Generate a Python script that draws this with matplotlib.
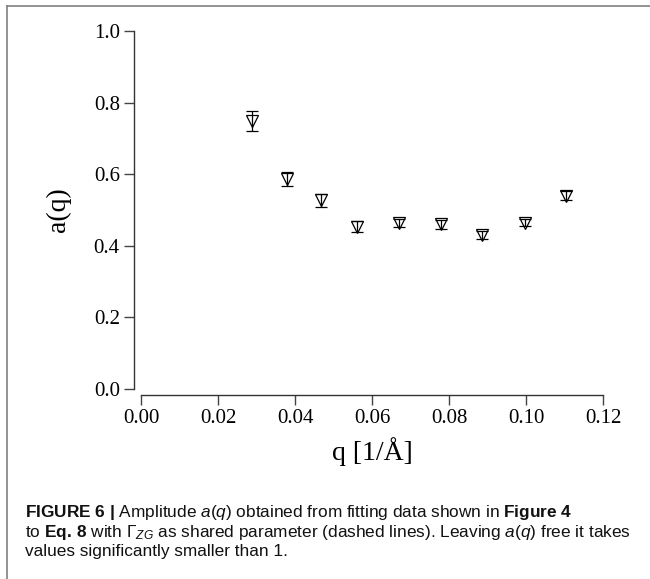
import numpy as np
import matplotlib
matplotlib.use("Agg")
import matplotlib.pyplot as plt
from matplotlib.lines import Line2D

# amplitude a(q)
q_vals = [0.0288, 0.0379, 0.0468, 0.0561, 0.0670, 0.0780, 0.0886, 0.0997, 0.1104]
a_vals = [0.749, 0.587, 0.527, 0.453, 0.464, 0.460, 0.430, 0.465, 0.540]
a_err = [0.028, 0.020, 0.018, 0.015, 0.012, 0.012, 0.011, 0.011, 0.013]

x_ticks = [0.00, 0.02, 0.04, 0.06, 0.08, 0.10, 0.12]
y_ticks = [0.0, 0.2, 0.4, 0.6, 0.8, 1.0]

caption = [
    r"$\mathbf{FIGURE\ 6\ |}$ Amplitude $\mathit{a(q)}$ obtained from fitting data shown in $\mathbf{Figure\ 4}$",
    r"to $\mathbf{Eq.\,8}$ with $\Gamma_{ZG}$ as shared parameter (dashed lines). Leaving $\mathit{a(q)}$ free it takes",
    r"values significantly smaller than 1.",
]

plt.rcParams['mathtext.fontset'] = 'custom'
plt.rcParams['mathtext.rm'] = 'Liberation Sans'
plt.rcParams['mathtext.it'] = 'Liberation Sans:italic'
plt.rcParams['mathtext.bf'] = 'Liberation Sans:bold'

W, H = 650, 579
fig = plt.figure(figsize=(W / 100, H / 100), dpi=100)
ax = fig.add_axes([141 / W, 1 - 389 / H, 462 / W, 358 / H])

ax.errorbar(q_vals, a_vals, yerr=a_err, fmt='v', ms=8, mfc='none', mec='black',
            mew=0.9, ecolor='black', elinewidth=0.9, capsize=4, capthick=0.9,
            clip_on=False)

ax.set_xlim(0, 0.12)
ax.set_ylim(0, 1.0)
for s in ['top', 'right']:
    ax.spines[s].set_visible(False)
ax.spines['left'].set_position(('outward', 7 * 0.72))
ax.spines['bottom'].set_position(('outward', 6 * 0.72))
ax.spines['left'].set_bounds(0, 1.0)
ax.spines['bottom'].set_bounds(0, 0.12)
for s in ['left', 'bottom']:
    ax.spines[s].set_color('#333333')
    ax.spines[s].set_linewidth(1)

ax.set_xticks(x_ticks)
ax.set_xticklabels(['%.2f' % v for v in x_ticks])
ax.set_yticks(y_ticks)
ax.set_yticklabels(['%.1f' % v for v in y_ticks])
ax.tick_params(length=7.2, width=1, color='#444444', labelsize=15, pad=3)
for lab in ax.get_xticklabels() + ax.get_yticklabels():
    lab.set_family('Liberation Serif')

fig.text(372 / W, 1 - 452 / H, 'q [1/Å]', family='Liberation Serif', fontsize=20,
         ha='center', va='center')
fig.text(58 / W, 1 - 210 / H, 'a(q)', family='Liberation Serif', fontsize=20,
         rotation=90, ha='center', va='center')

baselines = [517, 537, 556]
for line, yb in zip(caption, baselines):
    fig.text(25 / W, 1 - yb / H, line, family='Liberation Sans', fontsize=12.4,
             ha='left', va='baseline', color='#111111')

# frame lines of the figure panel
fig.add_artist(Line2D([7 / W, 1], [1 - 6 / H, 1 - 6 / H], color='#808080', lw=1.2))
fig.add_artist(Line2D([7 / W, 7 / W], [0, 1 - 6 / H], color='#808080', lw=1.2))

fig.savefig('out.png', dpi=100)
